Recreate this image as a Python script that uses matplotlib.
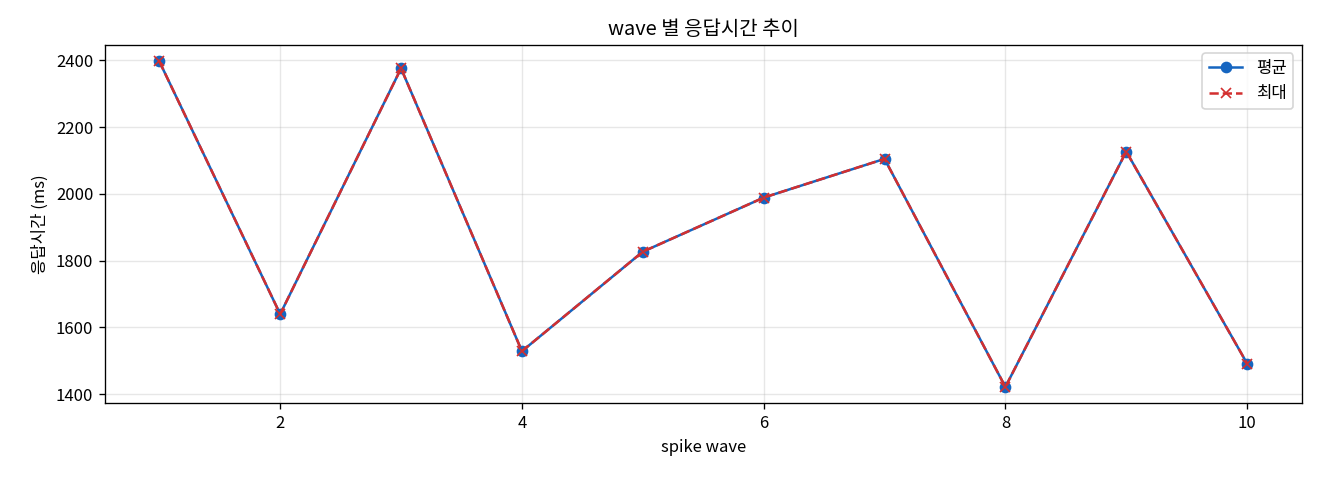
import matplotlib
matplotlib.use("Agg")
import matplotlib.pyplot as plt

plt.rcParams['font.family'] = ['Noto Sans CJK KR', 'DejaVu Sans']
plt.rcParams['axes.unicode_minus'] = False

waves = [1, 2, 3, 4, 5, 6, 7, 8, 9, 10]
avg_ms = [2397, 1640, 2376, 1529, 1827, 1989, 2105, 1422, 2127, 1492]
max_ms = [2397, 1640, 2376, 1529, 1827, 1989, 2105, 1422, 2127, 1492]

fig, ax = plt.subplots(figsize=(11, 4), dpi=120)
ax.plot(waves, avg_ms, marker='o', color='#1565C0', label='평균', linewidth=1.5, markersize=6)
ax.plot(waves, max_ms, marker='x', linestyle='--', color='#D32F2F', label='최대', linewidth=1.5, markersize=6)
ax.set_title('wave 별 응답시간 추이')
ax.set_xlabel('spike wave')
ax.set_ylabel('응답시간 (ms)')
ax.grid(True, alpha=0.3)
ax.legend(loc='upper right')
fig.subplots_adjust(left=0.0795, right=0.986, top=0.906, bottom=0.16)
fig.savefig('out.png')
